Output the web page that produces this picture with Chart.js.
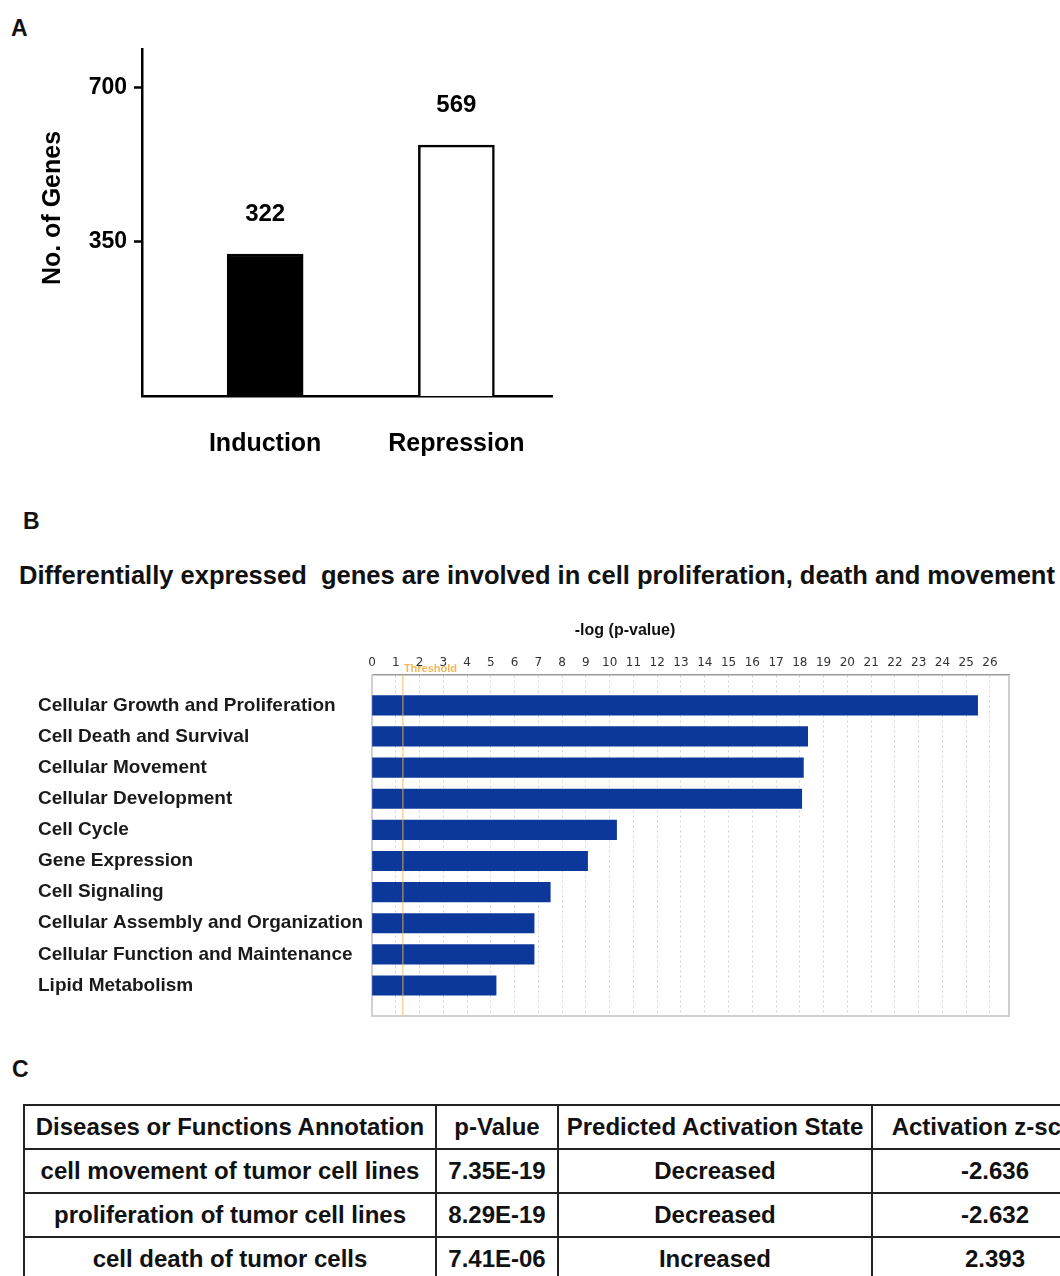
<!DOCTYPE html>
<html>
<head>
<meta charset="utf-8">
<script src="https://cdn.jsdelivr.net/npm/chart.js@4.4.1/dist/chart.umd.min.js"></script>
<style>
  html, body { margin: 0; padding: 0; background: #fff; width: 1060px; height: 1276px; overflow: hidden; }
  body { font-family: "Liberation Sans", Arial, sans-serif; color: #111; position: relative; }
  .letter { position: absolute; font-weight: bold; font-size: 23px; line-height: 23px; }
  #titleB { position: absolute; left: 19px; top: 563px; font-weight: bold; font-size: 25.5px; line-height: 25px; white-space: nowrap; }
  #chartA { position: absolute; left: 0; top: 0; }
  #chartB { position: absolute; left: 0; top: 600px; }
  table.ipa { position: absolute; left: 23px; top: 1104px; width: 1094px; max-width: none; border-collapse: collapse; table-layout: fixed; }
  table.ipa td { border: 2px solid #222; padding: 0; text-align: center; font-weight: bold; font-size: 24px; white-space: nowrap; overflow: hidden; }
  table.ipa tr { height: 44px; }
</style>
</head>
<body>
<div class="letter" style="left:11px;top:17px;">A</div>
<div class="letter" style="left:23px;top:510px;">B</div>
<div class="letter" style="left:12px;top:1058px;">C</div>
<div id="titleB">Differentially expressed&nbsp; genes are involved in cell proliferation, death and movement</div>
<canvas id="chartA" width="600" height="480"></canvas>
<canvas id="chartB" width="1060" height="440"></canvas>
<table class="ipa" id="tableC"></table>

<script>
// ---- Panel A: number of differentially expressed genes ----
const geneGroups = ['Induction', 'Repression'];
const geneCounts = [322, 569];
const countTicks = [350, 700];

// ---- Panel B: top functional categories ----
const functionCategories = [
  'Cellular Growth and Proliferation',
  'Cell Death and Survival',
  'Cellular Movement',
  'Cellular Development',
  'Cell Cycle',
  'Gene Expression',
  'Cell Signaling',
  'Cellular Assembly and Organization',
  'Cellular Function and Maintenance',
  'Lipid Metabolism'
];
const negLogP = [25.48, 18.33, 18.15, 18.08, 10.29, 9.07, 7.50, 6.82, 6.82, 5.22];
const thresholdValue = 1.3;

// ---- Panel C: annotation table ----
const tableHeaders = ['Diseases or Functions Annotation', 'p-Value', 'Predicted Activation State', 'Activation z-score'];
const annotations = ['cell movement of tumor cell lines', 'proliferation of tumor cell lines', 'cell death of tumor cells'];
const pValues = ['7.35E-19', '8.29E-19', '7.41E-06'];
const activationStates = ['Decreased', 'Decreased', 'Increased'];
const zScores = ['-2.636', '-2.632', '2.393'];

const FONT = '"Liberation Sans", Arial, sans-serif';

// value labels above the bars and the rotated y title
const countLabels = {
  id: 'countLabels',
  afterDatasetsDraw(chart) {
    const { ctx } = chart;
    const meta = chart.getDatasetMeta(0);
    ctx.save();
    ctx.fillStyle = '#000';
    ctx.font = 'bold 24px ' + FONT;
    ctx.textAlign = 'center';
    ctx.textBaseline = 'middle';
    meta.data.forEach((bar, i) => {
      ctx.fillText(String(geneCounts[i]), bar.x, bar.y - 40);
    });
    ctx.translate(53, 208);
    ctx.rotate(-Math.PI / 2);
    ctx.font = 'bold 25px ' + FONT;
    ctx.fillText('No. of Genes', 0, 0);
    ctx.restore();
  }
};

new Chart(document.getElementById('chartA'), {
  type: 'bar',
  data: {
    datasets: [{
      data: geneCounts.map((v, i) => ({ x: i, y: v })),
      backgroundColor: ['#000000', '#ffffff'],
      borderColor: '#000000',
      borderWidth: 2.5,
      borderSkipped: 'start',
      barThickness: 76
    }]
  },
  options: {
    responsive: false,
    animation: false,
    layout: { padding: { top: 49, right: 48, left: 0, bottom: 0 } },
    plugins: { legend: { display: false }, tooltip: { enabled: false } },
    scales: {
      x: {
        type: 'linear', min: -0.644, max: 1.5, offset: false,
        afterBuildTicks: s => { s.ticks = geneGroups.map((_, i) => ({ value: i })); },
        afterFit: s => { s.height = 84; },
        grid: { display: false },
        border: { display: true, color: '#000', width: 2.5 },
        ticks: {
          padding: 25, color: '#000', maxRotation: 0, autoSkip: false,
          font: { family: FONT, size: 25, weight: 'bold' },
          callback: v => geneGroups[v]
        }
      },
      y: {
        type: 'linear', min: 0, max: 787,
        afterBuildTicks: s => { s.ticks = countTicks.map(v => ({ value: v })); },
        afterFit: s => { s.width = 142; },
        grid: { drawOnChartArea: false, drawTicks: true, tickLength: 8, tickColor: '#000', tickWidth: 2.5 },
        border: { display: true, color: '#000', width: 2.5 },
        ticks: { padding: 7, color: '#000', font: { family: FONT, size: 23, weight: 'bold' } }
      }
    }
  },
  plugins: [countLabels]
});

// frame, threshold marker and axis caption for the pathway chart
const ipaDecor = {
  id: 'ipaDecor',
  beforeDatasetsDraw(chart) {
    const { ctx, chartArea: a } = chart;
    ctx.save();
    ctx.strokeStyle = '#cfcfcf';
    ctx.lineWidth = 2;
    ctx.beginPath();
    ctx.moveTo(a.right, a.top);
    ctx.lineTo(a.right, a.bottom);
    ctx.lineTo(a.left, a.bottom);
    ctx.stroke();
    ctx.restore();
  },
  afterDatasetsDraw(chart) {
    const { ctx, chartArea: a, scales: { x } } = chart;
    const tx = x.getPixelForValue(thresholdValue);
    ctx.save();
    ctx.strokeStyle = 'rgba(240,180,80,0.85)';
    ctx.lineWidth = 1;
    ctx.beginPath();
    ctx.moveTo(tx, a.top);
    ctx.lineTo(tx, a.bottom);
    ctx.stroke();
    ctx.fillStyle = 'rgba(240,175,70,0.9)';
    ctx.font = 'bold 11px ' + FONT;
    ctx.textAlign = 'left';
    ctx.textBaseline = 'middle';
    ctx.fillText('Threshold', tx + 1, a.top - 6);
    ctx.fillStyle = '#111';
    ctx.font = 'bold 16px ' + FONT;
    ctx.textAlign = 'center';
    ctx.fillText('-log (p-value)', 625, 31);
    ctx.restore();
  }
};

new Chart(document.getElementById('chartB'), {
  type: 'bar',
  data: {
    datasets: [{
      data: negLogP.map((v, i) => ({ x: v, y: i })),
      backgroundColor: '#0d389b',
      borderWidth: 0,
      barThickness: 19.5
    }]
  },
  options: {
    indexAxis: 'y',
    responsive: false,
    animation: false,
    layout: { padding: { top: 0, left: 38, right: 51, bottom: 24 } },
    plugins: { legend: { display: false }, tooltip: { enabled: false } },
    scales: {
      x: {
        type: 'linear', position: 'top', min: 0, max: 26.8,
        afterFit: s => { s.height = 75; },
        ticks: {
          stepSize: 1, includeBounds: false, padding: 5, color: '#333',
          maxRotation: 0, autoSkip: false,
          font: { family: '"DejaVu Sans", sans-serif', size: 12 }
        },
        grid: {
          drawTicks: false, lineWidth: 1,
          color: c => (c.tick && c.tick.value === 0) ? 'rgba(0,0,0,0)' : '#d2d2d2'
        },
        border: { display: true, color: '#9a9a9a', width: 1.5, dash: [2, 3] }
      },
      y: {
        type: 'linear', reverse: true, min: -0.974, max: 9.98, offset: false,
        afterBuildTicks: s => { s.ticks = functionCategories.map((_, i) => ({ value: i })); },
        afterFit: s => { s.width = 334; },
        grid: { display: false },
        border: { display: true, color: '#cfcfcf', width: 2 },
        ticks: {
          crossAlign: 'far', padding: 0, color: '#1a1a1a', autoSkip: false,
          font: { family: FONT, size: 19, weight: 'bold' },
          callback: v => functionCategories[v]
        }
      }
    }
  },
  plugins: [ipaDecor]
});

// annotation table
(function buildTable() {
  const widths = [412, 122, 314, 246];
  const table = document.getElementById('tableC');
  const colgroup = document.createElement('colgroup');
  widths.forEach(w => {
    const col = document.createElement('col');
    col.style.width = w + 'px';
    colgroup.appendChild(col);
  });
  table.appendChild(colgroup);
  const head = document.createElement('tr');
  tableHeaders.forEach(h => {
    const td = document.createElement('td');
    td.textContent = h;
    head.appendChild(td);
  });
  table.appendChild(head);
  annotations.forEach((name, i) => {
    const tr = document.createElement('tr');
    [name, pValues[i], activationStates[i], zScores[i]].forEach(t => {
      const td = document.createElement('td');
      td.textContent = t;
      tr.appendChild(td);
    });
    table.appendChild(tr);
  });
})();
</script>
</body>
</html>
